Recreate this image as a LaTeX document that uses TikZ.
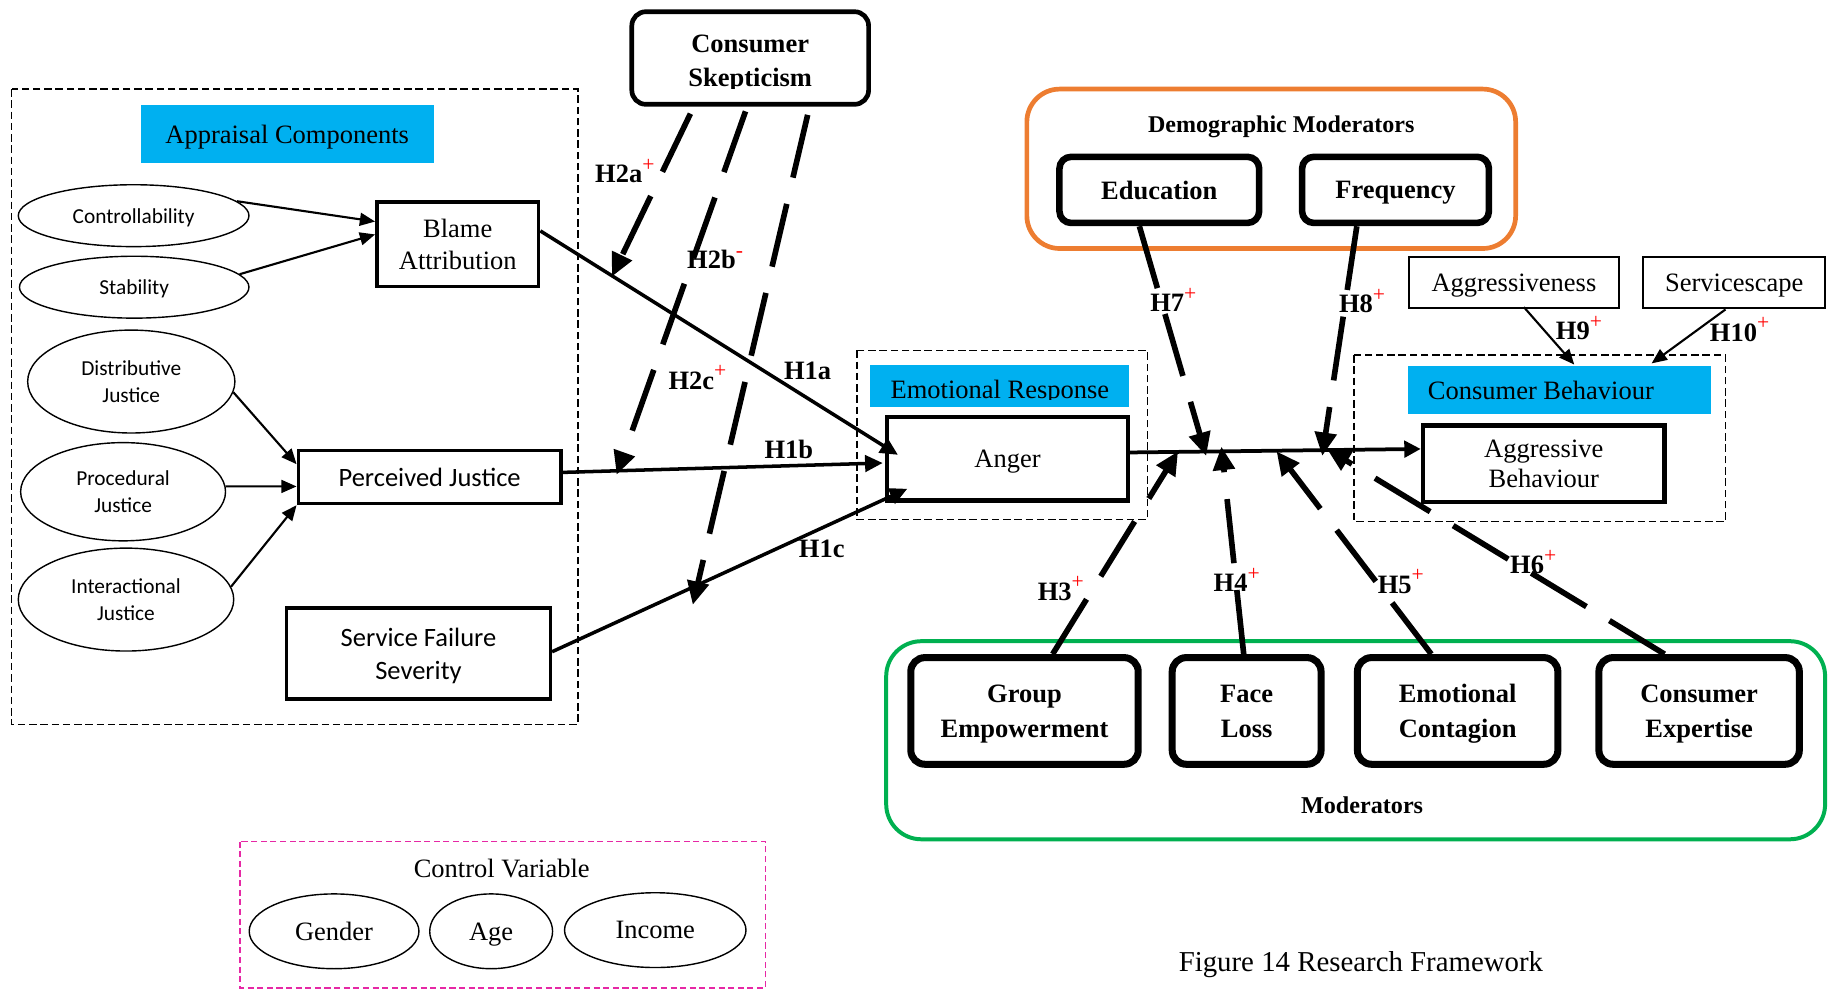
\documentclass[tikz,border=0pt]{standalone}
\usepackage{fontspec}
\setmainfont{Liberation Serif}
\newfontfamily\calibrifont{Carlito}
\usetikzlibrary{arrows.meta,calc,shapes.geometric}

\definecolor{hdrblue}{RGB}{0,176,240}
\definecolor{demoorange}{RGB}{237,125,49}
\definecolor{modgreen}{RGB}{0,176,80}
\definecolor{ctrlpink}{RGB}{230,40,165}

\newcommand{\supplus}{\raisebox{0.42em}{\normalfont\fontsize{9.2}{9.2}\selectfont\textcolor{red}{+}}}
\newcommand{\supminus}{\raisebox{0.42em}{\normalfont\fontsize{9.2}{9.2}\selectfont\textcolor{red}{-}}}

\tikzset{
  every node/.style={text depth=0pt},
  txt/.style={inner sep=0pt, align=center},
  serif/.style={txt, font=\fontsize{11.3}{14}\selectfont},
  serifbf/.style={txt, font=\bfseries\fontsize{11.3}{15}\selectfont},
  calibri/.style={txt, font=\calibrifont\fontsize{11.3}{14}\selectfont},
  calibrism/.style={txt, font=\calibrifont\fontsize{9.1}{11.5}\selectfont},
  header/.style={fill=hdrblue, inner sep=0pt},
  oval/.style={ellipse, draw, line width=0.6pt, calibrism},
  sqbox/.style={rectangle, draw, line width=1.5pt},
  heavybox/.style={rectangle, draw, line width=1.9pt},
  lightbox/.style={rectangle, draw, line width=0.9pt},
  roundbox/.style={rectangle, draw, rounded corners=6pt, line width=3pt, serifbf},
  groupframe/.style={draw, line width=0.6pt, dash pattern=on 3.2pt off 1.6pt},
  hyp/.style={inner sep=0pt, font=\bfseries\fontsize{11.3}{13}\selectfont},
  feed/.style={line width=0.9pt, -{Triangle[length=6.5pt,width=5.5pt]}},
  effect/.style={line width=1.5pt, -{Triangle[length=7.5pt,width=7pt]}},
  outcome/.style={line width=1.6pt, -{Triangle[length=7pt,width=7pt]}},
  moder/.style={line width=2.4pt, dash pattern=on 27.5pt off 11.5pt, -{Triangle[length=10pt,width=9pt]}},
}

\begin{document}
\begin{tikzpicture}[x=0.5pt,y=-0.5pt]
\useasboundingbox (0,0) rectangle (1568,844);

% ---------- Appraisal components ----------
\draw[groupframe] (10,76) rectangle (493,618);
\node[header, serif, minimum width=125pt, minimum height=24.5pt] (apc) at (245,114.5) {Appraisal Components};
\node[oval, minimum width=98.4pt, minimum height=26.4pt] (ctrl) at (114,184) {Controllability};
\node[oval, minimum width=97.9pt, minimum height=26.4pt] (stab) at (114.5,245) {Stability};
\node[oval, minimum width=88.4pt, minimum height=43.9pt] (dist) at (112,325.5) {Distributive\\Justice};
\node[oval, minimum width=87.4pt, minimum height=41.9pt] (proc) at (105,419.5) {Procedural\\Justice};
\node[oval, minimum width=91.9pt, minimum height=43.9pt] (inter) at (107.5,511.5) {Interactional\\Justice};
\node[sqbox, serif, minimum width=69pt, minimum height=36pt] (blame) at (390.5,208.5) {Blame\\Attribution};
\node[sqbox, calibri, minimum width=112pt, minimum height=22.5pt] (pj) at (366.5,407) {Perceived Justice};
\node[sqbox, calibri, minimum width=112.5pt, minimum height=39pt] (sfs) at (357,557.5) {Service Failure\\Severity};

% ---------- Consumer skepticism ----------
\node[roundbox, line width=2pt, minimum width=101pt, minimum height=39.5pt] (cs) at (640,49.5) {};
\begin{scope}
  \clip (542,12) rectangle (738,75.5);
  \node[serifbf, font=\bfseries\fontsize{11.3}{14.5}\selectfont] (cstxt) at (640,52) {Consumer\\Skepticism};
\end{scope}

% ---------- Emotional response ----------
\draw[groupframe] (731,299) rectangle (979,443);
\node[header, minimum width=110.5pt, minimum height=18pt] (erc) at (852.5,329) {};
\begin{scope}
  \clip (742,311) rectangle (963,341);
  \node[serif] (ertxt) at (853,332) {Emotional Response};
\end{scope}
\node[heavybox, serif, minimum width=102.6pt, minimum height=35.6pt] (anger) at (859.5,391.5) {Anger};

% ---------- Demographic moderators ----------
\draw[demoorange, line width=2pt, rounded corners=14pt] (876,76) rectangle (1293,212);
\node[txt, font=\bfseries\fontsize{10.25}{12}\selectfont] (demotitle) at (1093,106) {Demographic Moderators};
\node[roundbox, line width=2.8pt, rounded corners=5pt, minimum width=85.2pt, minimum height=28.2pt] (edu) at (989,162) {Education};
\node[roundbox, line width=2.8pt, rounded corners=5pt, minimum width=79.7pt, minimum height=28.2pt] (freq) at (1190.5,162) {Frequency};

% ---------- Consumer behaviour ----------
\node[lightbox, serif, minimum width=89.6pt, minimum height=22.1pt] (aggr) at (1291.5,241) {Aggressiveness};
\node[lightbox, serif, minimum width=77.6pt, minimum height=22.1pt] (svc) at (1479.5,241) {Servicescape};
\draw[groupframe] (1155,303) rectangle (1472,445);
\node[header, minimum width=129.5pt, minimum height=20.5pt] (cbc) at (1330.5,332.5) {};
\node[serif] (cbtxt) at (1314.5,333) {Consumer Behaviour};
\node[heavybox, serif, font=\fontsize{11.3}{13}\selectfont, minimum width=103.1pt, minimum height=32.6pt] (ab) at (1317,395.5) {Aggressive\\Behaviour};

% ---------- Moderators ----------
\draw[modgreen, line width=1.7pt, rounded corners=15pt] (756,547) rectangle (1557,716);
\node[roundbox, minimum width=97pt, minimum height=45.5pt] (ge) at (874,606.5) {Group\\Empowerment};
\node[roundbox, minimum width=63.5pt, minimum height=45.5pt] (fl) at (1063.5,606.5) {Face\\Loss};
\node[roundbox, minimum width=85.5pt, minimum height=45.5pt] (ec) at (1243.5,606.5) {Emotional\\Contagion};
\node[roundbox, minimum width=85.5pt, minimum height=45.5pt] (ce) at (1449.5,606.5) {Consumer\\Expertise};
\node[txt, font=\bfseries\fontsize{10.3}{12}\selectfont] (modtitle) at (1162,687) {Moderators};

% ---------- Control variables ----------
\draw[ctrlpink, line width=0.7pt, dash pattern=on 2.6pt off 1.5pt] (205,718) rectangle (653,843);
\node[serif] (cvtitle) at (428,741) {Control Variable};
\node[oval, serif, minimum width=72.4pt, minimum height=31.9pt] (gender) at (285,794.5) {Gender};
\node[oval, serif, minimum width=52.4pt, minimum height=31.9pt] (age) at (419,794.5) {Age};
\node[oval, serif, minimum width=77.4pt, minimum height=31.9pt] (income) at (559,793.5) {Income};

\node[serif, font=\fontsize{12.3}{14}\selectfont] (caption) at (1161,820) {Figure 14 Research Framework};

% ---------- Appraisal links ----------
\draw[feed] (ctrl.8) -- ($(blame.west)+(0,-19.5)$);
\draw[feed] (stab.7) -- ($(blame.west)+(0,-8.5)$);
\draw[feed] (dist.-6) -- ($(pj.west)+(0,-11)$);
\draw[feed] (proc.3) -- ($(pj.west)+(0,8)$);
\draw[feed] (inter.7) -- (pj.south west);

% ---------- Main effects on anger ----------
\draw[effect] ($(blame.east)+(0,-11.5)$) -- ($(anger.west)+(11,-3.5)$);
\draw[effect] ($(pj.east)+(0,-4)$) -- ($(anger.west)+(-2,3.5)$);
\draw[effect] ($(sfs.east)+(0,-1.5)$) -- ($(anger.west)+(19,25.5)$);

% ---------- Skepticism moderation ----------
\coordinate (t2a) at (522,236);
\coordinate (t2b) at (526,405);
\coordinate (t2c) at (591,516);
\draw[moder] ($(cs.south)+(-51,6)$) -- (t2a);
\draw[moder] ($(cs.south)+(-4,4)$) -- (t2b);
\draw[moder] ($(cs.south)+(49,7)$) -- (t2c);

% ---------- Anger to behaviour ----------
\draw[outcome] ($(anger.east)+(0,-5.5)$) -- ($(ab.west)+(0,-12.5)$);

% ---------- Moderation of the anger-behaviour link ----------
\coordinate (t3) at (1005,385);
\coordinate (t7) at (1029,389);
\coordinate (t4) at (1042,381);
\coordinate (t5) at (1089,385);
\coordinate (t8) at (1128,389);
\coordinate (t6) at (1132,383);
\draw[moder] ($(edu.south)+(-17,0)$) -- (t7);
\draw[moder] ($(freq.south)+(-33,0)$) -- (t8);
\draw[moder] ($(ge.north)+(24,0)$) -- (t3);
\draw[moder] ($(fl.north)+(-2.5,0)$) -- (t4);
\draw[moder] ($(ec.north)+(-22.5,0)$) -- (t5);
\draw[moder] ($(ce.north)+(-29.5,0)$) -- (t6);

% ---------- Situational influences ----------
\coordinate (t9) at (1343,311);
\coordinate (t10) at (1409,310);
\draw[feed] ($(aggr.south)+(8.5,-2)$) -- (t9);
\draw[feed] ($(svc.south)+(-7.5,0)$) -- (t10);

% ---------- Hypothesis labels ----------
\node[hyp] (l1a) at (689,316) {H1a};
\node[hyp] (l1b) at (673,383) {H1b};
\node[hyp] (l1c) at (701,468) {H1c};
\node[hyp] (l2a) at (533,146) {H2a\supplus};
\node[hyp] (l2b) at (610,221) {H2b\supminus};
\node[hyp] (l2c) at (595,322) {H2c\supplus};
\node[hyp] (l3) at (905,502) {H3\supplus};
\node[hyp] (l4) at (1055,495) {H4\supplus};
\node[hyp] (l5) at (1195,496) {H5\supplus};
\node[hyp] (l6) at (1308,479) {H6\supplus};
\node[hyp] (l7) at (1001,256) {H7\supplus};
\node[hyp] (l8) at (1162,257) {H8\supplus};
\node[hyp] (l9) at (1347,280) {H9\supplus};
\node[hyp] (l10) at (1484,281) {H10\supplus};
\end{tikzpicture}
\end{document}
